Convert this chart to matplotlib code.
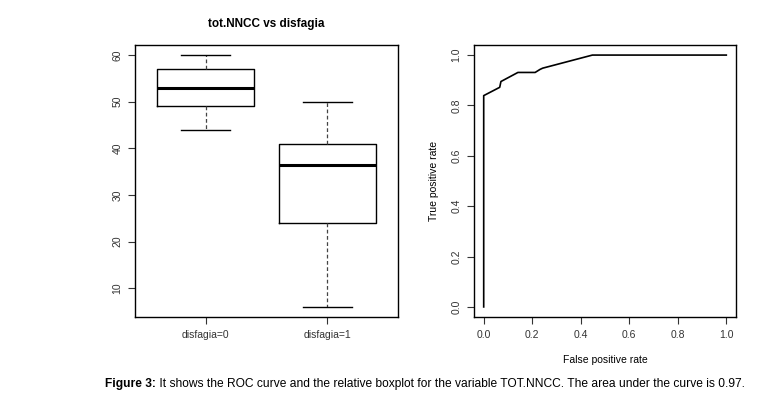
import matplotlib
matplotlib.use("Agg")
import matplotlib.pyplot as plt

plt.rcParams['font.family'] = ['Liberation Sans', 'DejaVu Sans']

# Boxplot data (tot.NNCC by disfagia)
groups = ["disfagia=0", "disfagia=1"]
whisker_low = [44, 6]
q1 = [49, 24]
median = [53, 36.5]
q3 = [57, 41]
whisker_high = [60, 50]
box_yticks = [10, 20, 30, 40, 50, 60]

# ROC curve
fpr = [0.0, 0.0, 0.066, 0.071, 0.141, 0.212, 0.232, 0.243, 0.448, 1.0]
tpr = [0.0, 0.839, 0.872, 0.895, 0.931, 0.931, 0.943, 0.948, 1.0, 1.0]
roc_ticks = [0.0, 0.2, 0.4, 0.6, 0.8, 1.0]

W, H = 783, 397
fig = plt.figure(figsize=(W / 100, H / 100), dpi=100)

def frac(x0, x1, ytop, ybot):
    return [x0 / W, 1 - ybot / H, (x1 - x0) / W, (ybot - ytop) / H]

ax1 = fig.add_axes(frac(135, 398, 45, 317))
ax2 = fig.add_axes(frac(474, 736, 45, 317))

stats = []
for i, g in enumerate(groups):
    stats.append(dict(label=g, whislo=whisker_low[i], q1=q1[i], med=median[i],
                      q3=q3[i], whishi=whisker_high[i], fliers=[]))
ax1.bxp(stats, positions=[1, 2], widths=0.8, showfliers=False,
        boxprops=dict(color='black', lw=1.0),
        medianprops=dict(color='black', lw=2.2),
        whiskerprops=dict(color='#444444', lw=0.9, linestyle=(0, (3, 2))),
        capprops=dict(color='black', lw=1.0), capwidths=0.4)
ax1.set_xlim(0.42, 2.58)
ax1.set_ylim(min(whisker_low) - 0.04 * 54, max(whisker_high) + 0.04 * 54)
ax1.set_yticks(box_yticks)
ax1.set_yticklabels([str(v) for v in box_yticks], rotation=90, va='center')
ax1.set_xticks([1, 2])
ax1.set_xticklabels(groups)
ax1.set_title("tot.NNCC vs disfagia", fontsize=8.5, fontweight='bold', pad=13)

ax2.plot(fpr, tpr, color='black', lw=1.2)
ax2.set_xlim(-0.04, 1.04)
ax2.set_ylim(-0.04, 1.04)
ax2.set_xticks(roc_ticks)
ax2.set_xticklabels([f"{v:.1f}" for v in roc_ticks])
ax2.set_yticks(roc_ticks)
ax2.set_yticklabels([f"{v:.1f}" for v in roc_ticks], rotation=90, va='center')
ax2.set_xlabel("False positive rate", fontsize=7.5, labelpad=11)
ax2.set_ylabel("True positive rate", fontsize=7.5, labelpad=9)

for ax in (ax1, ax2):
    for s in ax.spines.values():
        s.set_linewidth(1.0)
        s.set_color('black')
    ax.tick_params(direction='out', length=5, width=0.8, labelsize=7.5, pad=4,
                   colors='#333333')

# Caption
cap = fig.add_axes([0, 0, 1, 1], facecolor='none')
cap.set_axis_off()
cap.set_xlim(0, W)
cap.set_ylim(H, 0)
t1 = cap.text(105, 384, "Figure 3:", fontsize=8.65, fontweight='bold', va='center', ha='left')
cap.annotate(" It shows the ROC curve and the relative boxplot for the variable TOT.NNCC. "
             "The area under the curve is 0.97.",
             xy=(1, 0.5), xycoords=t1, va='center', ha='left', fontsize=8.65)

fig.savefig("out.png", dpi=100)
